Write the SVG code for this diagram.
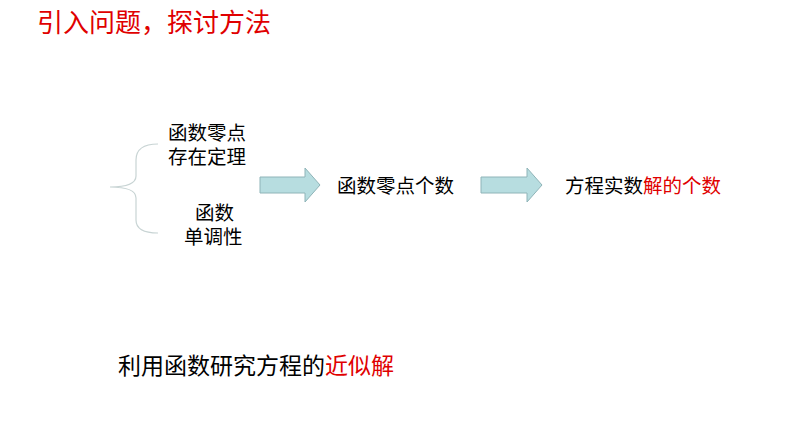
<svg xmlns="http://www.w3.org/2000/svg" width="794" height="447" viewBox="0 0 794 447">
<style>
text{font-family:"Liberation Sans","Noto Sans CJK SC",sans-serif;fill:#000}
.l{font-size:19.5px}
.r{fill:#e00000}
.arr{fill:#b7dde0;stroke:#8fb4b8;stroke-width:1}
</style>
<rect width="794" height="447" fill="#fff"/>
<g id="title"><text x="37" y="32" font-size="26" class="r">引入问题，探讨方法</text></g>
<g id="connectors">
<path d="M158,144 Q136,144 136,160 L136,176 Q136,187 110,187 Q136,187 136,198 L136,220 Q136,233 158,233" fill="none" stroke="#c8d4d4" stroke-width="1.2"/>
<path class="arr" d="M260,177 H305 V168 L320,185 L305,202 V193 H260 Z"/>
<path class="arr" d="M481,177 H527 V168 L542,185 L527,202 V193 H481 Z"/>
</g>
<g id="n1"><text class="l" x="168" y="140">函数零点</text><text class="l" x="168" y="164">存在定理</text></g>
<g id="n2"><text class="l" x="195" y="220">函数</text><text class="l" x="184" y="244">单调性</text></g>
<g id="n3"><text class="l" x="337" y="193">函数零点个数</text></g>
<g id="n4"><text class="l" x="565" y="193">方程实数<tspan class="r">解的个数</tspan></text></g>
<g id="bottom"><text x="118" y="374" font-size="23">利用函数研究方程的<tspan class="r">近似解</tspan></text></g>
</svg>
